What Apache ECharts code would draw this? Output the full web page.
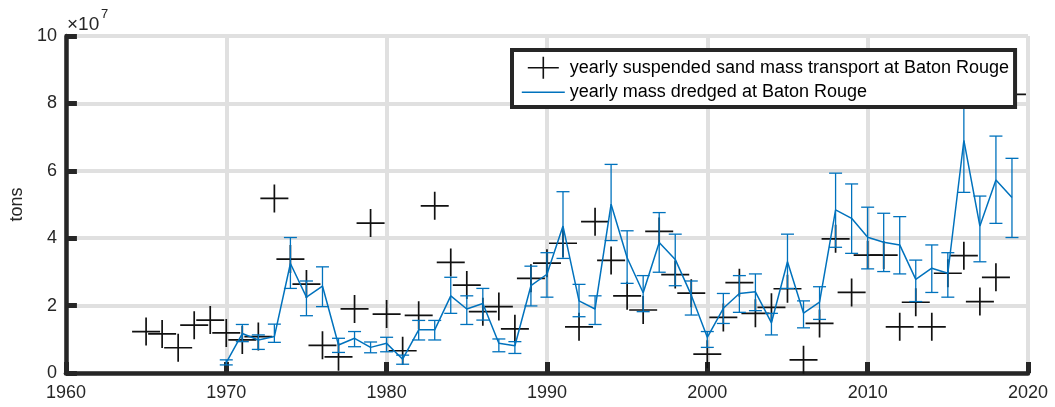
<!DOCTYPE html>
<html>
<head>
<meta charset="utf-8">
<script src="https://cdn.jsdelivr.net/npm/echarts@6/dist/echarts.min.js"></script>
<style>
  html, body { margin: 0; padding: 0; background: #fff; }
  #chart { width: 1055px; height: 407px; }
</style>
</head>
<body>
<div id="chart"></div>
<script>
// Values in units of 10^7 tons
const sandYears = [
  1965, 1966, 1967, 1968, 1969, 1970, 1971, 1972, 1973, 1974,
  1975, 1976, 1977, 1978, 1979, 1980, 1981, 1982, 1983, 1984,
  1985, 1986, 1987, 1988, 1989, 1990, 1991, 1992, 1993, 1994,
  1995, 1996, 1997, 1998, 1999, 2000, 2001, 2002, 2003, 2004,
  2005, 2006, 2007, 2008, 2009, 2010, 2011, 2012, 2013, 2014,
  2015, 2016, 2017, 2018, 2019
];
const sandTransport = [
  1.23, 1.16, 0.75, 1.42, 1.57, 1.19, 0.98, 1.08, 5.18, 3.38,
  2.64, 0.82, 0.48, 1.90, 4.45, 1.75, 0.66, 1.71, 4.96, 3.28,
  2.61, 1.82, 1.97, 1.31, 2.81, 3.26, 3.85, 1.37, 4.49, 3.34,
  2.29, 1.87, 4.20, 2.92, 2.37, 0.56, 1.65, 2.68, 1.77, 1.95,
  2.50, 0.39, 1.47, 3.98, 2.39, 3.50, 3.50, 1.37, 2.10, 1.37,
  2.96, 3.48, 2.12, 2.84, 8.27
];

const dredgeYears = [
  1970, 1971, 1972, 1973, 1974, 1975, 1976, 1977, 1978, 1979,
  1980, 1981, 1982, 1983, 1984, 1985, 1986, 1987, 1988, 1989,
  1990, 1991, 1992, 1993, 1994, 1995, 1996, 1997, 1998, 1999,
  2000, 2001, 2002, 2003, 2004, 2005, 2006, 2007, 2008, 2009,
  2010, 2011, 2012, 2013, 2014, 2015, 2016, 2017, 2018, 2019
];
const dredged = [
  0.31, 1.17, 0.98, 1.08, 3.25, 2.25, 2.58, 0.83, 1.03, 0.76,
  0.88, 0.41, 1.28, 1.28, 2.29, 1.90, 2.06, 0.88, 0.81, 2.59,
  2.93, 4.36, 2.14, 1.90, 5.01, 3.42, 2.38, 3.87, 3.37, 2.31,
  1.06, 1.92, 2.36, 2.41, 1.49, 3.30, 1.78, 2.10, 4.84, 4.59,
  4.03, 3.88, 3.80, 2.78, 3.11, 2.96, 6.90, 4.36, 5.73, 5.21
];
const dredgedLow = [
  0.24, 0.93, 0.70, 0.91, 2.51, 1.70, 1.97, 0.61, 0.78, 0.60,
  0.63, 0.26, 0.98, 0.98, 1.77, 1.44, 1.57, 0.63, 0.58, 1.99,
  2.25, 3.40, 1.67, 1.44, 3.93, 2.66, 1.82, 2.99, 2.59, 1.72,
  0.76, 1.47, 1.80, 1.85, 1.13, 2.51, 1.34, 1.59, 3.73, 3.55,
  3.09, 3.01, 2.94, 2.12, 2.39, 2.25, 5.36, 3.30, 4.44, 4.02
];
const dredgedHigh = [
  0.39, 1.44, 1.13, 1.45, 4.02, 2.73, 3.15, 1.03, 1.23, 0.92,
  1.06, 0.53, 1.56, 1.56, 2.84, 2.29, 2.51, 1.01, 0.93, 3.17,
  3.57, 5.38, 2.63, 2.29, 6.19, 4.22, 2.89, 4.76, 4.12, 2.73,
  1.23, 2.36, 2.89, 2.94, 1.77, 4.12, 2.14, 2.56, 5.93, 5.61,
  4.92, 4.74, 4.64, 3.35, 3.80, 3.57, 8.45, 5.25, 7.03, 6.37
];

const yTicks = [0, 2, 4, 6, 8, 10];
const xTicks = [1960, 1970, 1980, 1990, 2000, 2010, 2020];

const SAND_NAME = 'yearly suspended sand mass transport at Baton Rouge';
const DREDGE_NAME = 'yearly mass dredged at Baton Rouge';
const BLUE = '#0072BD';
const INK = '#262626';
const FONT = 'Liberation Sans, Arial, Helvetica, sans-serif';

const sandData = sandYears.map((y, i) => [y, sandTransport[i]]);
const dredgeData = dredgeYears.map((y, i) => [y, dredged[i]]);
const errData = dredgeYears.map((y, i) => [y, dredgedLow[i], dredgedHigh[i]]);

const chart = echarts.init(document.getElementById('chart'), null, { renderer: 'canvas' });

const axisCommon = {
  axisLine: { show: true, onZero: false, lineStyle: { color: INK, width: 4.5 } },
  axisTick: { show: true, inside: true, length: 11, lineStyle: { color: INK, width: 5 } },
  splitLine: { show: true, lineStyle: { color: '#e0e0e0', width: 4 } },
  axisLabel: { color: INK, fontSize: 18, fontFamily: FONT }
};

chart.setOption({
  animation: false,
  backgroundColor: '#fff',
  grid: { left: 64, right: 27, top: 36, bottom: 34, containLabel: false },
  xAxis: Object.assign({}, axisCommon, {
    type: 'value',
    min: xTicks[0],
    max: xTicks[xTicks.length - 1],
    interval: 10,
    axisLabel: Object.assign({}, axisCommon.axisLabel, {
      margin: 11, showMinLabel: true, showMaxLabel: true,
      formatter: v => String(v)
    })
  }),
  yAxis: Object.assign({}, axisCommon, {
    type: 'value',
    min: yTicks[0],
    max: yTicks[yTicks.length - 1],
    interval: 2,
    name: 'tons',
    nameLocation: 'middle',
    nameRotate: 90,
    nameGap: 30,
    nameTextStyle: { color: INK, fontSize: 18, fontFamily: FONT },
    axisLabel: Object.assign({}, axisCommon.axisLabel, { margin: 9, formatter: v => String(v) })
  }),
  legend: {
    orient: 'vertical',
    left: 512,
    top: 50,
    padding: [6, 6, 3, 9],
    itemGap: 1,
    itemWidth: 43,
    itemHeight: 22,
    backgroundColor: '#fff',
    borderColor: INK,
    borderWidth: 4,
    borderRadius: 0,
    selectedMode: false,
    textStyle: { color: '#000', fontSize: 18, fontFamily: FONT, lineHeight: 22 },
    data: [
      {
        name: SAND_NAME,
        icon: 'path://M-21.5,-11M21.5,11M0,-11L0,11M-15.5,0L15.5,0',
        itemStyle: { color: 'transparent', borderColor: '#111', borderWidth: 1.6 }
      },
      {
        name: DREDGE_NAME,
        icon: 'path://M-21.5,-11M21.5,11M-21.5,0L21.5,0',
        itemStyle: { color: 'transparent', borderColor: BLUE, borderWidth: 1.5 }
      }
    ]
  },
  graphic: [
    { type: 'text', left: 67, top: 15, style: { text: '×10', fontSize: 19, fontFamily: FONT, fill: INK } },
    { type: 'text', left: 101, top: 8, style: { text: '7', fontSize: 13, fontFamily: FONT, fill: INK } }
  ],
  series: [
    {
      name: SAND_NAME,
      type: 'scatter',
      data: sandData,
      symbol: 'path://M0,-1L0,1M-1,0L1,0',
      symbolSize: 28,
      silent: true,
      z: 2,
      itemStyle: { color: 'transparent', borderColor: '#111', borderWidth: 1.7, opacity: 1 }
    },
    {
      name: 'dredged range',
      type: 'custom',
      data: errData,
      encode: { x: 0, y: [1, 2] },
      silent: true,
      z: 3,
      clip: false,
      renderItem: function (params, api) {
        const x = api.value(0);
        const lo = api.coord([x, api.value(1)]);
        const hi = api.coord([x, api.value(2)]);
        const half = 6.5;
        const st = { stroke: BLUE, lineWidth: 1.3, fill: null };
        return {
          type: 'group',
          children: [
            { type: 'line', shape: { x1: lo[0], y1: lo[1], x2: hi[0], y2: hi[1] }, style: st },
            { type: 'line', shape: { x1: lo[0] - half, y1: lo[1], x2: lo[0] + half, y2: lo[1] }, style: st },
            { type: 'line', shape: { x1: hi[0] - half, y1: hi[1], x2: hi[0] + half, y2: hi[1] }, style: st }
          ]
        };
      }
    },
    {
      name: DREDGE_NAME,
      type: 'line',
      data: dredgeData,
      symbol: 'none',
      showSymbol: false,
      silent: true,
      z: 4,
      lineStyle: { color: BLUE, width: 1.5 },
      itemStyle: { color: BLUE }
    }
  ]
});
</script>
</body>
</html>
